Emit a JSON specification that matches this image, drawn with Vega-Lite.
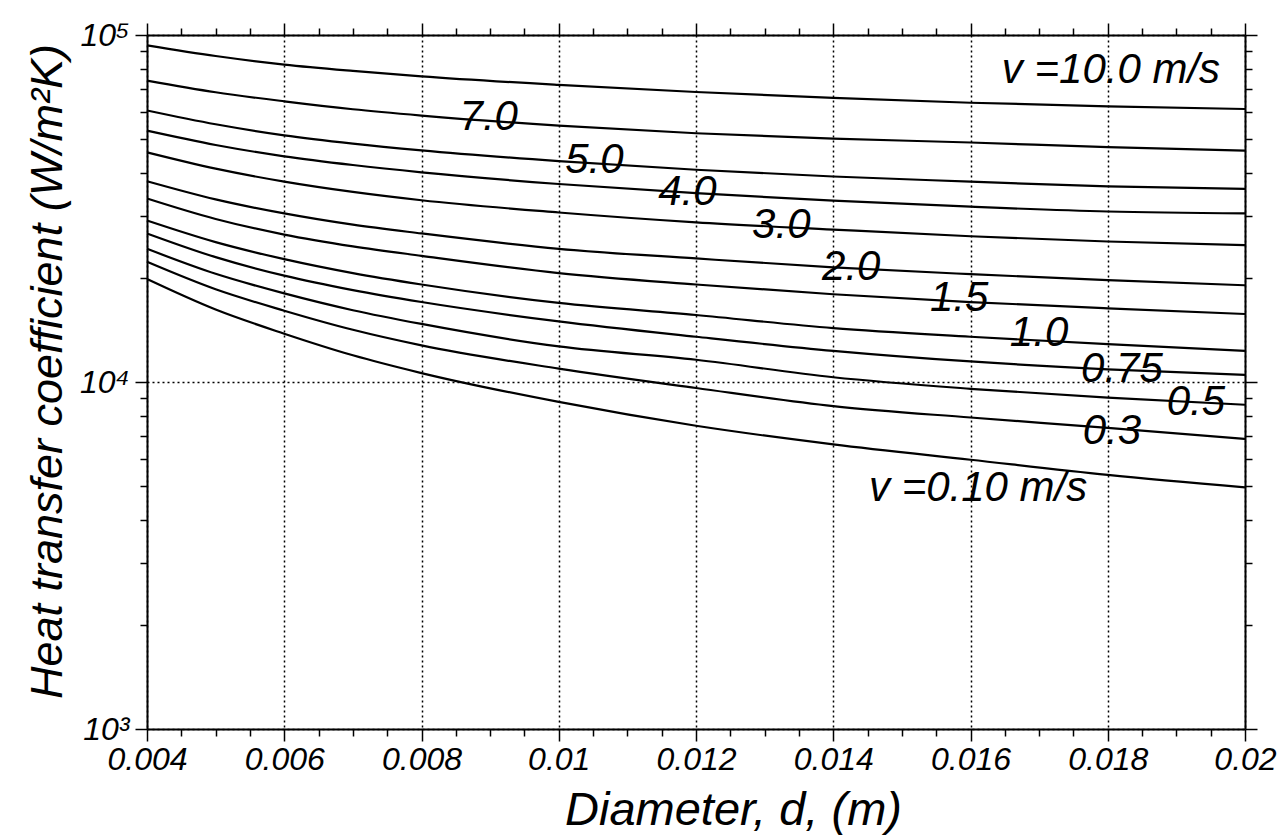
{
  "$schema": "https://vega.github.io/schema/vega-lite/v6.json",
  "width": 1098,
  "height": 694,
  "autosize": "none",
  "padding": {"left": 147, "top": 35, "right": 39, "bottom": 108},
  "background": "white",
  "config": {
    "view": {"stroke": null},
    "font": "Liberation Sans",
    "axis": {
      "labelFont": "Liberation Sans",
      "labelFontStyle": "italic",
      "labelColor": "black",
      "tickColor": "black",
      "tickWidth": 1.5,
      "domainColor": "black",
      "domainWidth": 2,
      "titleColor": "black",
      "titleFont": "Liberation Sans",
      "titleFontStyle": "italic",
      "titleFontWeight": "normal",
      "gridColor": "black",
      "gridDash": [2, 3],
      "gridWidth": 1.5,
      "gridOpacity": 1
    }
  },
  "datasets": {
    "curves": [
      {"v": "10.0", "d": 0.004, "h": 93400}, {"v": "10.0", "d": 0.005, "h": 87000}, {"v": "10.0", "d": 0.006, "h": 82200}, {"v": "10.0", "d": 0.007, "h": 78800}, {"v": "10.0", "d": 0.008, "h": 76000}, {"v": "10.0", "d": 0.01, "h": 71800}, {"v": "10.0", "d": 0.012, "h": 68500}, {"v": "10.0", "d": 0.014, "h": 65900}, {"v": "10.0", "d": 0.016, "h": 63800}, {"v": "10.0", "d": 0.018, "h": 62300}, {"v": "10.0", "d": 0.02, "h": 61200},
      {"v": "7.0", "d": 0.004, "h": 73900}, {"v": "7.0", "d": 0.005, "h": 68400}, {"v": "7.0", "d": 0.006, "h": 64400}, {"v": "7.0", "d": 0.007, "h": 61100}, {"v": "7.0", "d": 0.008, "h": 58600}, {"v": "7.0", "d": 0.01, "h": 54800}, {"v": "7.0", "d": 0.012, "h": 52100}, {"v": "7.0", "d": 0.014, "h": 50300}, {"v": "7.0", "d": 0.016, "h": 49000}, {"v": "7.0", "d": 0.018, "h": 47500}, {"v": "7.0", "d": 0.02, "h": 46400},
      {"v": "5.0", "d": 0.004, "h": 60600}, {"v": "5.0", "d": 0.005, "h": 55300}, {"v": "5.0", "d": 0.006, "h": 51400}, {"v": "5.0", "d": 0.007, "h": 48650}, {"v": "5.0", "d": 0.008, "h": 46500}, {"v": "5.0", "d": 0.01, "h": 43300}, {"v": "5.0", "d": 0.012, "h": 40900}, {"v": "5.0", "d": 0.014, "h": 39100}, {"v": "5.0", "d": 0.016, "h": 37800}, {"v": "5.0", "d": 0.018, "h": 36600}, {"v": "5.0", "d": 0.02, "h": 36000},
      {"v": "4.0", "d": 0.004, "h": 53000}, {"v": "4.0", "d": 0.005, "h": 48200}, {"v": "4.0", "d": 0.006, "h": 44700}, {"v": "4.0", "d": 0.007, "h": 42200}, {"v": "4.0", "d": 0.008, "h": 40200}, {"v": "4.0", "d": 0.01, "h": 37200}, {"v": "4.0", "d": 0.012, "h": 35000}, {"v": "4.0", "d": 0.014, "h": 33300}, {"v": "4.0", "d": 0.016, "h": 32000}, {"v": "4.0", "d": 0.018, "h": 31000}, {"v": "4.0", "d": 0.02, "h": 30600},
      {"v": "3.0", "d": 0.004, "h": 45900}, {"v": "3.0", "d": 0.005, "h": 41200}, {"v": "3.0", "d": 0.006, "h": 37800}, {"v": "3.0", "d": 0.007, "h": 35300}, {"v": "3.0", "d": 0.008, "h": 33400}, {"v": "3.0", "d": 0.01, "h": 30800}, {"v": "3.0", "d": 0.012, "h": 28850}, {"v": "3.0", "d": 0.014, "h": 27500}, {"v": "3.0", "d": 0.016, "h": 26300}, {"v": "3.0", "d": 0.018, "h": 25400}, {"v": "3.0", "d": 0.02, "h": 24800},
      {"v": "2.0", "d": 0.004, "h": 37900}, {"v": "2.0", "d": 0.005, "h": 33600}, {"v": "2.0", "d": 0.006, "h": 30600}, {"v": "2.0", "d": 0.007, "h": 28400}, {"v": "2.0", "d": 0.008, "h": 26800}, {"v": "2.0", "d": 0.01, "h": 24200}, {"v": "2.0", "d": 0.012, "h": 22700}, {"v": "2.0", "d": 0.014, "h": 21400}, {"v": "2.0", "d": 0.016, "h": 20450}, {"v": "2.0", "d": 0.018, "h": 19650}, {"v": "2.0", "d": 0.02, "h": 19000},
      {"v": "1.5", "d": 0.004, "h": 33800}, {"v": "1.5", "d": 0.005, "h": 29500}, {"v": "1.5", "d": 0.006, "h": 26600}, {"v": "1.5", "d": 0.007, "h": 24600}, {"v": "1.5", "d": 0.008, "h": 23100}, {"v": "1.5", "d": 0.01, "h": 20600}, {"v": "1.5", "d": 0.012, "h": 19100}, {"v": "1.5", "d": 0.014, "h": 17900}, {"v": "1.5", "d": 0.016, "h": 17000}, {"v": "1.5", "d": 0.018, "h": 16300}, {"v": "1.5", "d": 0.02, "h": 15700},
      {"v": "1.0", "d": 0.004, "h": 29200}, {"v": "1.0", "d": 0.005, "h": 25300}, {"v": "1.0", "d": 0.006, "h": 22600}, {"v": "1.0", "d": 0.007, "h": 20600}, {"v": "1.0", "d": 0.008, "h": 19100}, {"v": "1.0", "d": 0.01, "h": 16900}, {"v": "1.0", "d": 0.012, "h": 15600}, {"v": "1.0", "d": 0.014, "h": 14300}, {"v": "1.0", "d": 0.016, "h": 13500}, {"v": "1.0", "d": 0.018, "h": 12850}, {"v": "1.0", "d": 0.02, "h": 12300},
      {"v": "0.75", "d": 0.004, "h": 26800}, {"v": "0.75", "d": 0.005, "h": 22900}, {"v": "0.75", "d": 0.006, "h": 20250}, {"v": "0.75", "d": 0.007, "h": 18400}, {"v": "0.75", "d": 0.008, "h": 17000}, {"v": "0.75", "d": 0.01, "h": 14950}, {"v": "0.75", "d": 0.012, "h": 13500}, {"v": "0.75", "d": 0.014, "h": 12300}, {"v": "0.75", "d": 0.016, "h": 11460}, {"v": "0.75", "d": 0.018, "h": 10880}, {"v": "0.75", "d": 0.02, "h": 10490},
      {"v": "0.5", "d": 0.004, "h": 24200}, {"v": "0.5", "d": 0.005, "h": 20500}, {"v": "0.5", "d": 0.006, "h": 18000}, {"v": "0.5", "d": 0.007, "h": 16100}, {"v": "0.5", "d": 0.008, "h": 14700}, {"v": "0.5", "d": 0.01, "h": 12660}, {"v": "0.5", "d": 0.012, "h": 11590}, {"v": "0.5", "d": 0.014, "h": 10320}, {"v": "0.5", "d": 0.016, "h": 9560}, {"v": "0.5", "d": 0.018, "h": 9010}, {"v": "0.5", "d": 0.02, "h": 8600},
      {"v": "0.3", "d": 0.004, "h": 22200}, {"v": "0.3", "d": 0.005, "h": 18500}, {"v": "0.3", "d": 0.006, "h": 16050}, {"v": "0.3", "d": 0.007, "h": 14140}, {"v": "0.3", "d": 0.008, "h": 12750}, {"v": "0.3", "d": 0.01, "h": 10930}, {"v": "0.3", "d": 0.012, "h": 9610}, {"v": "0.3", "d": 0.014, "h": 8520}, {"v": "0.3", "d": 0.016, "h": 7900}, {"v": "0.3", "d": 0.018, "h": 7380}, {"v": "0.3", "d": 0.02, "h": 6850},
      {"v": "0.10", "d": 0.004, "h": 19800}, {"v": "0.10", "d": 0.005, "h": 16170}, {"v": "0.10", "d": 0.006, "h": 13780}, {"v": "0.10", "d": 0.007, "h": 11940}, {"v": "0.10", "d": 0.008, "h": 10610}, {"v": "0.10", "d": 0.01, "h": 8760}, {"v": "0.10", "d": 0.012, "h": 7480}, {"v": "0.10", "d": 0.014, "h": 6610}, {"v": "0.10", "d": 0.016, "h": 5970}, {"v": "0.10", "d": 0.018, "h": 5400}, {"v": "0.10", "d": 0.02, "h": 4970}
    ],
    "labels": [
      {"text": "7.0", "d": 0.00898, "h": 58200, "group": "curve"},
      {"text": "5.0", "d": 0.01052, "h": 43740, "group": "curve"},
      {"text": "4.0", "d": 0.011875, "h": 35380, "group": "curve"},
      {"text": "3.0", "d": 0.013243, "h": 28410, "group": "curve"},
      {"text": "2.0", "d": 0.014262, "h": 21500, "group": "curve"},
      {"text": "1.5", "d": 0.015834, "h": 17500, "group": "curve"},
      {"text": "1.0", "d": 0.016999, "h": 13870, "group": "curve"},
      {"text": "0.75", "d": 0.018207, "h": 10920, "group": "curve"},
      {"text": "0.5", "d": 0.019284, "h": 8770, "group": "curve"},
      {"text": "0.3", "d": 0.018061, "h": 7235, "group": "curve"},
      {"text": "v =10.0 m/s", "d": 0.018047, "h": 79530, "group": "top"},
      {"text": "v =0.10 m/s", "d": 0.016111, "h": 4955, "group": "bottom"}
    ]
  },
  "layer": [
    {
      "data": {"name": "curves"},
      "mark": {"type": "line", "color": "black", "strokeWidth": 2.2, "interpolate": "monotone"},
      "encoding": {
        "x": {
          "field": "d", "type": "quantitative",
          "scale": {"domain": [0.004, 0.02], "nice": false, "zero": false},
          "axis": {
            "orient": "bottom",
            "values": [0.004, 0.006, 0.008, 0.01, 0.012, 0.014, 0.016, 0.018, 0.02],
            "format": "~g",
            "labelFontSize": 32,
            "labelPadding": 3,
            "labelFlush": false,
            "labelOverlap": false,
            "tickSize": 12,
            "grid": true,
            "domain": true,
            "title": "Diameter, d, (m)",
            "titleFontSize": 47,
            "titleX": 586,
            "titleY": 81,
            "titleAlign": "center",
            "titleBaseline": "middle"
          }
        },
        "y": {
          "field": "h", "type": "quantitative",
          "scale": {"type": "log", "domain": [1000, 100000], "nice": false},
          "axis": {
            "orient": "left",
            "values": [1000, 10000, 100000],
            "labelExpr": "datum.value == 1000 ? '10³' : datum.value == 10000 ? '10⁴' : '10⁵'",
            "labelFontSize": 32,
            "labelPadding": 6,
            "labelFlush": false,
            "labelOverlap": false,
            "labelBaseline": "middle",
            "tickSize": 12,
            "grid": true,
            "domain": true,
            "title": "Heat transfer coefficient (W/m²K)",
            "titleFontSize": 45,
            "titleAngle": -90,
            "titleX": -100,
            "titleY": 336,
            "titleAlign": "center",
            "titleBaseline": "middle"
          }
        },
        "detail": {"field": "v", "type": "nominal"}
      }
    },
    {
      "data": {"name": "labels"},
      "transform": [{"filter": "datum.group == 'curve'"}],
      "mark": {"type": "text", "font": "Liberation Sans", "fontStyle": "italic", "fontSize": 42, "color": "black", "align": "center", "baseline": "middle"},
      "encoding": {
        "x": {
          "field": "d", "type": "quantitative",
          "scale": {"domain": [0.004, 0.02], "nice": false, "zero": false},
          "axis": {
            "orient": "bottom",
            "values": [0.0045, 0.005, 0.0055, 0.0065, 0.007, 0.0075, 0.0085, 0.009, 0.0095, 0.0105, 0.011, 0.0115, 0.0125, 0.013, 0.0135, 0.0145, 0.015, 0.0155, 0.0165, 0.017, 0.0175, 0.0185, 0.019, 0.0195],
            "labels": false, "domain": false, "grid": false, "tickSize": 7, "title": null
          }
        },
        "y": {
          "field": "h", "type": "quantitative",
          "scale": {"type": "log", "domain": [1000, 100000], "nice": false},
          "axis": {
            "orient": "left",
            "values": [2000, 3000, 4000, 5000, 6000, 7000, 8000, 9000, 20000, 30000, 40000, 50000, 60000, 70000, 80000, 90000],
            "labels": false, "domain": false, "grid": false, "tickSize": 7, "title": null
          }
        },
        "text": {"field": "text", "type": "nominal"}
      }
    },
    {
      "data": {"name": "labels"},
      "transform": [{"filter": "datum.group == 'top'"}],
      "mark": {"type": "text", "font": "Liberation Sans", "fontStyle": "italic", "fontSize": 42, "color": "black", "align": "center", "baseline": "middle"},
      "encoding": {
        "x": {
          "field": "d", "type": "quantitative",
          "scale": {"domain": [0.004, 0.02], "nice": false, "zero": false},
          "axis": {
            "orient": "top",
            "values": [0.004, 0.006, 0.008, 0.01, 0.012, 0.014, 0.016, 0.018, 0.02],
            "labels": false, "domain": true, "grid": false, "tickSize": 12, "title": null
          }
        },
        "y": {
          "field": "h", "type": "quantitative",
          "scale": {"type": "log", "domain": [1000, 100000], "nice": false},
          "axis": {
            "orient": "right",
            "values": [1000, 10000, 100000],
            "labels": false, "domain": true, "grid": false, "tickSize": 12, "title": null
          }
        },
        "text": {"field": "text", "type": "nominal"}
      }
    },
    {
      "data": {"name": "labels"},
      "transform": [{"filter": "datum.group == 'bottom'"}],
      "mark": {"type": "text", "font": "Liberation Sans", "fontStyle": "italic", "fontSize": 42, "color": "black", "align": "center", "baseline": "middle"},
      "encoding": {
        "x": {
          "field": "d", "type": "quantitative",
          "scale": {"domain": [0.004, 0.02], "nice": false, "zero": false},
          "axis": {
            "orient": "top",
            "values": [0.0045, 0.005, 0.0055, 0.0065, 0.007, 0.0075, 0.0085, 0.009, 0.0095, 0.0105, 0.011, 0.0115, 0.0125, 0.013, 0.0135, 0.0145, 0.015, 0.0155, 0.0165, 0.017, 0.0175, 0.0185, 0.019, 0.0195],
            "labels": false, "domain": false, "grid": false, "tickSize": 7, "title": null
          }
        },
        "y": {
          "field": "h", "type": "quantitative",
          "scale": {"type": "log", "domain": [1000, 100000], "nice": false},
          "axis": {
            "orient": "right",
            "values": [2000, 3000, 4000, 5000, 6000, 7000, 8000, 9000, 20000, 30000, 40000, 50000, 60000, 70000, 80000, 90000],
            "labels": false, "domain": false, "grid": false, "tickSize": 7, "title": null
          }
        },
        "text": {"field": "text", "type": "nominal"}
      }
    }
  ],
  "resolve": {"axis": {"x": "independent", "y": "independent"}}
}
